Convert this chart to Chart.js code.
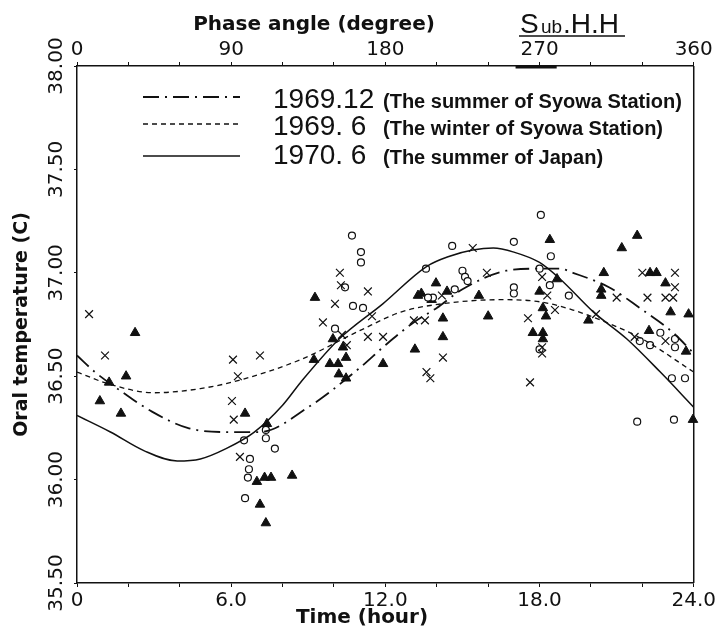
<!DOCTYPE html>
<html lang="en">
<head>
<meta charset="UTF-8">
<title>Oral temperature vs time</title>
<script src="https://cdn.jsdelivr.net/npm/chart.js"></script>
<style>
  html, body { margin: 0; padding: 0; background: #fff; }
  #wrap { width: 718px; height: 632px; }
</style>
</head>
<body>
<div id="wrap"><canvas id="chart" width="718" height="632"></canvas></div>
<script>
// fitted curves (hour, degC)
var ddHours = [0, 0.7, 1.8, 2.9, 4.3, 5.8, 7.1, 9.0, 11.0, 12.0, 13.1, 14.0, 15.0, 16.7, 18.0, 18.8, 19.3, 20.7, 21.9, 23.2, 24];
var ddTemps = [36.60, 36.52, 36.42, 36.33, 36.25, 36.23, 36.23, 36.35, 36.54, 36.65, 36.76, 36.83, 36.92, 37.01, 37.02, 37.02, 37.00, 36.93, 36.83, 36.71, 36.61];

var dashHours = [0, 1.3, 3.0, 4.8, 6.3, 8.7, 11.0, 12.6, 14.2, 16.5, 18.0, 19.3, 20.6, 22.0, 24];
var dashTemps = [36.52, 36.46, 36.42, 36.44, 36.48, 36.58, 36.72, 36.81, 36.85, 36.87, 36.86, 36.82, 36.76, 36.68, 36.52];

var solidHours = [0, 1.3, 2.6, 3.9, 4.8, 5.8, 6.9, 8.0, 8.7, 10.2, 11.9, 13.6, 14.5, 15.4, 16.2, 17.0, 18.0, 18.8, 20.1, 21.4, 22.7, 24];
var solidTemps = [36.31, 36.23, 36.14, 36.09, 36.10, 36.15, 36.23, 36.36, 36.47, 36.68, 36.85, 37.03, 37.08, 37.11, 37.12, 37.10, 37.05, 36.97, 36.81, 36.68, 36.52, 36.35];

// individual readings [hour, degC]
var crossPts = [
  [0.47, 36.80], [1.09, 36.60],
  [6.07, 36.58], [7.12, 36.60], [6.26, 36.50], [6.03, 36.38], [6.1, 36.29], [6.34, 36.11],
  [10.23, 37.00], [10.27, 36.94], [11.32, 36.91], [10.04, 36.85], [9.57, 36.76], [11.48, 36.79],
  [10.31, 36.70], [11.32, 36.69], [11.91, 36.69], [10.5, 36.65],
  [13.6, 36.52], [13.75, 36.49], [13.11, 36.77], [13.54, 36.77],
  [15.4, 37.12], [15.95, 37.00], [14.2, 36.89], [14.24, 36.59],
  [18.1, 36.98], [18.3, 36.89], [18.6, 36.82], [17.55, 36.78], [18.1, 36.64], [18.1, 36.61], [17.63, 36.47],
  [20.2, 36.80], [22.0, 37.00], [23.27, 37.00], [23.27, 36.93], [21.0, 36.88], [22.2, 36.88],
  [22.9, 36.88], [23.2, 36.88], [21.7, 36.69], [22.9, 36.67]
];
var circlePts = [
  [6.5, 36.19], [7.35, 36.24], [7.35, 36.20], [7.7, 36.15], [6.73, 36.10], [6.69, 36.05], [6.65, 36.01], [6.54, 35.91],
  [10.7, 37.18], [11.05, 37.10], [11.05, 37.05], [10.43, 36.93], [10.74, 36.84], [11.13, 36.83], [10.04, 36.73],
  [13.58, 37.02], [14.6, 37.13], [17.0, 37.15], [15.0, 37.01], [15.1, 36.98], [15.2, 36.96], [14.7, 36.92],
  [13.85, 36.88], [13.66, 36.88], [17.0, 36.93], [17.0, 36.90],
  [18.05, 37.28], [18.44, 37.08], [18.4, 36.94], [19.14, 36.89], [18.0, 36.63], [18.0, 37.02],
  [22.7, 36.71], [21.9, 36.67], [22.3, 36.65], [23.27, 36.68], [23.27, 36.64],
  [23.15, 36.49], [23.66, 36.49], [21.8, 36.28], [23.23, 36.29]
];
var trianglePts = [
  [0.89, 36.38], [1.25, 36.47], [1.71, 36.32], [1.91, 36.50], [2.26, 36.71],
  [6.54, 36.32], [7.39, 36.27], [7.0, 35.99], [7.3, 36.01], [7.55, 36.01], [8.37, 36.02], [7.12, 35.88], [7.35, 35.79],
  [9.26, 36.88], [9.96, 36.68], [10.35, 36.64], [10.47, 36.59], [9.22, 36.58], [9.84, 36.56], [10.16, 36.56],
  [11.91, 36.56], [10.19, 36.51], [10.47, 36.49], [13.15, 36.63], [13.27, 36.89],
  [13.97, 36.95], [14.4, 36.91], [15.64, 36.89], [13.4, 36.90], [13.8, 36.87], [14.24, 36.78], [16.0, 36.79], [14.24, 36.69],
  [18.4, 37.16], [18.0, 36.91], [18.13, 36.83], [18.25, 36.79], [17.74, 36.71], [18.13, 36.71], [18.13, 36.68],
  [18.68, 36.97], [19.9, 36.77],
  [21.8, 37.18], [21.2, 37.12], [20.5, 37.00], [22.3, 37.00], [22.55, 37.00], [22.9, 36.95], [20.4, 36.92],
  [20.4, 36.89], [23.1, 36.81], [23.8, 36.80], [22.26, 36.72], [23.7, 36.62], [23.97, 36.29]
];

var yTickValues = [35.5, 36.0, 36.5, 37.0, 37.5, 38.0];
var yTickLabels = ['35.50', '36.00', '36.50', '37.00', '37.50', '38.00'];
var legendYears = ['1969.12', '1969. 6', '1970. 6'];
var legendNotes = ['(The summer of Syowa Station)', '(The winter of Syowa Station)', '(The summer of Japan)'];

var INK = '#111';

function pairs(hs, ts) {
    return hs.map(function (h, i) { return { x: h, y: ts[i] }; });
}
function pts(list) {
    return list.map(function (p) { return { x: p[0], y: p[1] }; });
}

// extra text: rotated y labels, titles, legend, Sub.H.H
var decor = {
    id: 'decor',
    afterDraw: function (chart) {
        var ctx = chart.ctx, a = chart.chartArea, ys = chart.scales.y, xt = chart.scales.x2;
        ctx.save();
        ctx.fillStyle = INK;
        ctx.strokeStyle = INK;

        // right frame line
        ctx.lineWidth = 1.5;
        ctx.beginPath();
        ctx.moveTo(a.right, a.top);
        ctx.lineTo(a.right, a.bottom);
        ctx.stroke();

        // underline under 270 on the top axis
        ctx.lineWidth = 3;
        ctx.beginPath();
        ctx.moveTo(xt.getPixelForValue(256), a.top + 1);
        ctx.lineTo(xt.getPixelForValue(280), a.top + 1);
        ctx.stroke();

        // y tick labels, rotated
        ctx.font = '20px "DejaVu Sans"';
        ctx.textAlign = 'center';
        ctx.textBaseline = 'middle';
        yTickValues.forEach(function (v, i) {
            ctx.save();
            ctx.translate(57, ys.getPixelForValue(v));
            ctx.rotate(-Math.PI / 2);
            ctx.fillText(yTickLabels[i], 0, 0);
            ctx.restore();
        });

        // axis titles
        ctx.font = 'bold 20px "DejaVu Sans"';
        ctx.fillText('Phase angle (degree)', 314, 25);
        ctx.fillText('Time (hour)', 362, 618);

        // Sub.H.H
        ctx.textAlign = 'left';
        ctx.textBaseline = 'alphabetic';
        ctx.font = '28px "Liberation Sans"';
        ctx.fillText('S', 520, 33);
        ctx.font = '19px "Liberation Sans"';
        ctx.fillText('ub', 541, 33);
        ctx.font = '28px "Liberation Sans"';
        ctx.fillText('.H.H', 563, 33);
        ctx.lineWidth = 1.5;
        ctx.beginPath();
        ctx.moveTo(519, 36);
        ctx.lineTo(625, 36);
        ctx.stroke();

        // legend
        var lineY = [97, 124, 156];
        var baseY = [108, 135, 164];
        var sets = chart.data.datasets.slice(0, 3);
        sets.forEach(function (ds, i) {
            ctx.save();
            ctx.lineWidth = ds.borderWidth;
            ctx.setLineDash(ds.borderDash || []);
            ctx.beginPath();
            ctx.moveTo(143, lineY[i]);
            ctx.lineTo(240, lineY[i]);
            ctx.stroke();
            ctx.restore();
            ctx.font = '28px "Liberation Sans"';
            ctx.fillText(legendYears[i], 273, baseY[i]);
            ctx.font = 'bold 20px "Liberation Sans"';
            ctx.fillText(legendNotes[i], 383, baseY[i]);
        });
        ctx.restore();
    }
};

var ctx = document.getElementById('chart').getContext('2d');
var chart = new Chart(ctx, {
    type: 'scatter',
    data: {
        datasets: [
            {
                type: 'line',
                label: '1969.12',
                data: pairs(ddHours, ddTemps),
                borderColor: INK,
                borderWidth: 1.8,
                borderDash: [16, 6, 2, 6],
                pointRadius: 0,
                cubicInterpolationMode: 'monotone',
                fill: false
            },
            {
                type: 'line',
                label: '1969. 6',
                data: pairs(dashHours, dashTemps),
                borderColor: INK,
                borderWidth: 1.3,
                borderDash: [5, 4],
                pointRadius: 0,
                cubicInterpolationMode: 'monotone',
                fill: false
            },
            {
                type: 'line',
                label: '1970. 6',
                data: pairs(solidHours, solidTemps),
                borderColor: INK,
                borderWidth: 1.5,
                pointRadius: 0,
                cubicInterpolationMode: 'monotone',
                fill: false
            },
            {
                label: 'x',
                data: pts(crossPts),
                pointStyle: 'crossRot',
                pointRadius: 5.5,
                borderColor: INK,
                borderWidth: 1.2,
                clip: false
            },
            {
                label: 'o',
                data: pts(circlePts),
                pointStyle: 'circle',
                pointRadius: 3.5,
                backgroundColor: '#fff',
                borderColor: INK,
                borderWidth: 1.2,
                clip: false
            },
            {
                label: 'tri',
                data: pts(trianglePts),
                pointStyle: 'triangle',
                pointRadius: 5.5,
                backgroundColor: INK,
                borderColor: INK,
                borderWidth: 1,
                clip: false
            }
        ]
    },
    options: {
        responsive: false,
        animation: false,
        events: [],
        layout: { padding: { left: 0, right: 24, top: 0, bottom: 0 } },
        plugins: {
            legend: { display: false },
            tooltip: { enabled: false }
        },
        scales: {
            x: {
                type: 'linear',
                position: 'bottom',
                min: 0,
                max: 24,
                afterFit: function (s) { s.height = 49; },
                border: { color: INK, width: 1.5 },
                grid: { drawOnChartArea: false, tickLength: 4, color: INK },
                ticks: {
                    stepSize: 2,
                    autoSkip: false,
                    maxRotation: 0,
                    padding: 2,
                    color: INK,
                    font: { family: 'DejaVu Sans', size: 20 },
                    callback: function (v) {
                        if (v % 6 !== 0) return '';
                        return v === 0 ? '0' : v.toFixed(1);
                    }
                }
            },
            x2: {
                type: 'linear',
                position: 'top',
                min: 0,
                max: 360,
                afterFit: function (s) { s.height = 66; },
                border: { color: INK, width: 1.5 },
                grid: { drawOnChartArea: false, tickLength: 4, color: INK },
                ticks: {
                    stepSize: 30,
                    autoSkip: false,
                    maxRotation: 0,
                    padding: 0,
                    color: INK,
                    font: { family: 'DejaVu Sans', size: 20 },
                    callback: function (v) { return v % 90 === 0 ? String(v) : ''; }
                }
            },
            y: {
                type: 'linear',
                position: 'left',
                min: 35.5,
                max: 38.0,
                afterFit: function (s) { s.width = 77; },
                border: { color: INK, width: 1.5 },
                grid: { drawOnChartArea: false, tickLength: 3, color: INK },
                ticks: { stepSize: 0.5, display: false },
                title: {
                    display: true,
                    text: 'Oral temperature (C)',
                    color: INK,
                    font: { family: 'DejaVu Sans', size: 19, weight: 'bold' },
                    padding: { top: 11, bottom: 0 }
                }
            }
        }
    },
    plugins: [decor]
});
</script>
</body>
</html>
